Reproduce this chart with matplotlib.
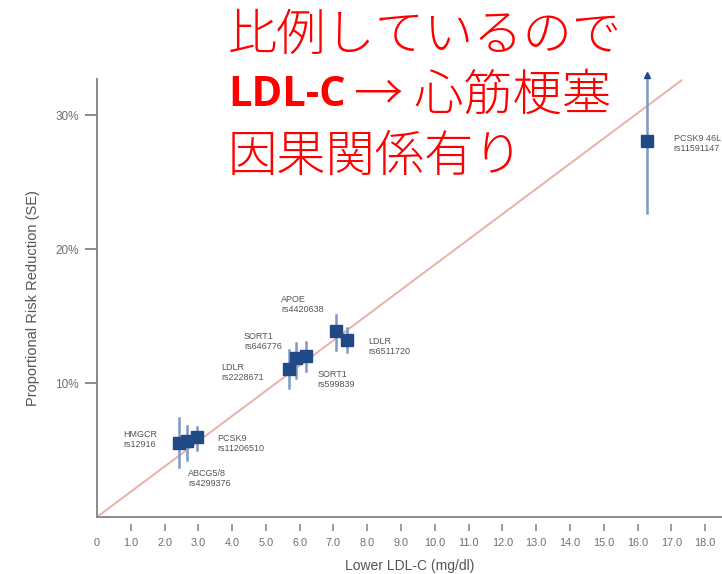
import matplotlib
matplotlib.use('Agg')
import matplotlib.pyplot as plt

# data
labels = ['HMGCR\nrs12916', 'ABCG5/8\nrs4299376', 'PCSK9\nrs11206510',
          'LDLR\nrs2228671', 'SORT1\nrs646776', 'SORT1\nrs599839',
          'APOE\nrs4420638', 'LDLR\nrs6511720', 'PCSK9 46L\nrs11591147']
ldl = [2.43, 2.65, 2.95, 5.69, 5.88, 6.18, 7.06, 7.40, 16.29]
rrr = [5.5, 5.7, 5.96, 11.04, 11.84, 12.0, 13.9, 13.19, 28.1]
lo = [3.7, 4.25, 5.0, 9.6, 10.4, 10.9, 12.5, 12.3, 22.7]
hi = [7.4, 6.8, 6.7, 12.5, 13.0, 13.1, 15.1, 14.1, 33.0]
# where each label sits (data coords, top-left corner)
label_x = [0.77, 2.70, 3.56, 3.69, 4.35, 6.52, 5.46, 8.03, 17.07]
label_y = [6.5, 3.6, 6.2, 11.5, 13.8, 11.0, 16.6, 13.45, 28.6]

line_x = [0, 17.3]
line_y = [0, 32.6]

xticks = list(range(0, 19))
xticklabels = ['0'] + ['%d.0' % i for i in range(1, 19)]
yticks = [10, 20, 30]
yticklabels = ['10%', '20%', '30%']

grey = '#6e6e6e'
box = '#1f4a86'
bar = '#8098c4'

plt.rcParams['font.family'] = ['Liberation Sans', 'DejaVu Sans']

fig = plt.figure(figsize=(7.22, 5.74), dpi=100)
ax = fig.add_axes([97 / 722, 57 / 574, 625 / 722, 438 / 574])

ax.plot(line_x, line_y, color='#eab0a8', lw=1.4, zorder=1)

for i in range(len(ldl)):
    ax.plot([ldl[i], ldl[i]], [lo[i], hi[i]], color=bar, lw=1.8, zorder=2, clip_on=False)
ax.plot([ldl[-1]], [hi[-1]], marker='^', color=box, ms=5, clip_on=False, zorder=3)
ax.plot(ldl, rrr, 's', color=box, ms=8.5, zorder=4, linestyle='none')

for i in range(len(labels)):
    ax.text(label_x[i], label_y[i], labels[i], fontsize=6.5, color='#555555',
            ha='left', va='top', linespacing=1.15)

ax.set_xlim(0, 18.5)
ax.set_ylim(0, 32.7)

for s in ['top', 'right']:
    ax.spines[s].set_visible(False)
ax.spines['left'].set_color('#8a8a8a')
ax.spines['left'].set_linewidth(1.4)
ax.spines['bottom'].set_visible(False)
ax.spines['bottom'].set_position(('outward', 5))
ax.axhline(0, color='#8a8a8a', lw=1.4, clip_on=False)

ax.set_xticks(xticks)
ax.set_xticklabels(xticklabels)
ax.set_yticks(yticks)
ax.set_yticklabels(yticklabels)
ax.tick_params(axis='x', length=5, width=1.2, color='#8a8a8a', labelsize=7.8,
               labelcolor=grey, pad=5)
ax.tick_params(axis='y', length=9, width=1.4, color='#8a8a8a', labelsize=8.5,
               labelcolor=grey, pad=4)
ax.xaxis.get_major_ticks()[0].tick1line.set_visible(False)

ax.set_xlabel('Lower LDL-C (mg/dl)', fontsize=10, color='#555555', labelpad=8)
ax.set_ylabel('Proportional Risk Reduction (SE)', fontsize=10.5, color='#555555', labelpad=11)

# red note on top
jp = ['Noto Sans CJK JP', 'DejaVu Sans']
red = '#ff0000'
fig.text(228 / 722, 1 - 36 / 574, '比例しているので', family=jp, fontsize=35.5,
         fontweight='light', color=red, ha='left', va='center')
fig.text(228 / 722, 1 - 95 / 574, 'LDL-C', family=['Open Sans', 'DejaVu Sans'],
         fontweight='bold', fontsize=30, color=red, ha='left', va='center')
fig.text(354 / 722, 1 - 96 / 574, '→ 心筋梗塞', family=jp, fontsize=35.5,
         fontweight='light', color=red, ha='left', va='center')
fig.text(228 / 722, 1 - 157 / 574, '因果関係有り', family=jp, fontsize=35.5,
         fontweight='light', color=red, ha='left', va='center')

fig.savefig('out.png', dpi=100)
